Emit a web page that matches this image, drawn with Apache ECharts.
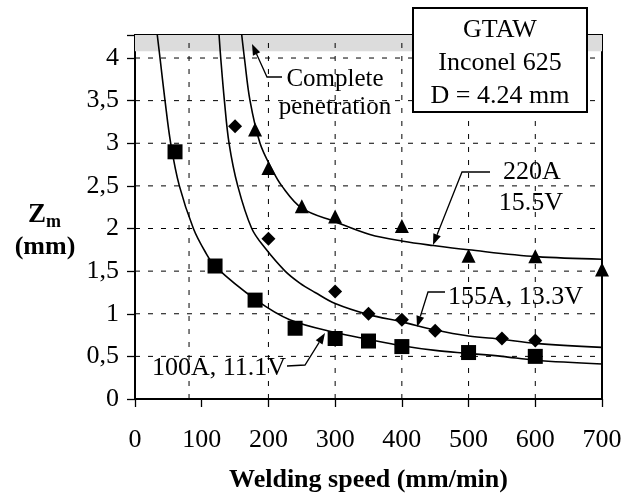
<!DOCTYPE html>
<html><head><meta charset="utf-8">
<script src="https://cdn.jsdelivr.net/npm/echarts@6/dist/echarts.min.js"></script>
<style>html,body{margin:0;padding:0;background:#fff}#c{width:631px;height:502px}</style>
</head><body><div id="c"></div>
<script>
const FONT = '"Liberation Serif", "Times New Roman", serif';
// tick / grid values
const xTicks = [0, 100, 200, 300, 400, 500, 600, 700];
const yTicks = [0, 0.5, 1, 1.5, 2, 2.5, 3, 3.5, 4];
const xGridLines = [81, 200, 300, 400, 500, 600];
const yGridLines = [0.5, 1, 1.5, 2, 2.5, 3, 3.5, 4];
const bandFrom = 4.08, yMax = 4.27, xMax = 700;
// measured points
const sq100X = [60, 120, 180, 240, 300, 350, 400, 500, 600];
const sq100Y = [2.90, 1.56, 1.16, 0.83, 0.71, 0.68, 0.615, 0.545, 0.50];
const dia155X = [150, 200, 300, 350, 400, 450, 550, 600];
const dia155Y = [3.20, 1.88, 1.26, 1.00, 0.93, 0.80, 0.71, 0.685];
const tri220X = [180, 200, 250, 300, 400, 500, 600, 700];
const tri220Y = [3.16, 2.71, 2.26, 2.14, 2.03, 1.68, 1.675, 1.52];
// fitted curves
const c100X = [33.4, 37.5, 45, 53.5, 66.5, 87.5, 105, 121, 182, 232, 300, 350, 400, 450, 500, 550, 600, 700];
const c100Y = [4.27, 4.0, 3.5, 3.0, 2.5, 2.0, 1.73, 1.55, 1.16, 0.93, 0.78, 0.70, 0.625, 0.57, 0.535, 0.50, 0.455, 0.41];
const c155X = [126, 128.5, 134, 141, 154, 175, 195, 225, 247, 270, 300, 350, 400, 450, 500, 550, 600, 700];
const c155Y = [4.27, 4.0, 3.5, 3.0, 2.5, 2.0, 1.77, 1.5, 1.36, 1.25, 1.12, 0.99, 0.905, 0.81, 0.74, 0.70, 0.653, 0.606];
const c220X = [160, 164, 172.4, 187.4, 205, 220, 250, 300, 352, 402, 447, 500, 602, 700];
const c220Y = [4.27, 4.0, 3.5, 3.0, 2.70, 2.5, 2.24, 2.08, 1.93, 1.85, 1.80, 1.75, 1.67, 1.64];

const zip = (xs, ys) => xs.map((x, i) => [x, ys[i]]);
const chart = echarts.init(document.getElementById('c'), null, {renderer: 'canvas'});

function arrow(pts, L = 11, W = 8) {
  const n = pts.length, tip = pts[n - 1], prev = pts[n - 2];
  let dx = tip[0] - prev[0], dy = tip[1] - prev[1];
  const len = Math.hypot(dx, dy); dx /= len; dy /= len;
  const bx = tip[0] - dx * L, by = tip[1] - dy * L;
  const px = -dy, py = dx;
  const line = pts.slice(0, n - 1).concat([[bx, by]]);
  return [
    {type: 'polyline', shape: {points: line}, style: {stroke: '#000', lineWidth: 1.3, fill: null}, z: 100},
    {type: 'polygon', shape: {points: [tip, [bx + px * W / 2, by + py * W / 2], [bx - px * W / 2, by - py * W / 2]]}, style: {fill: '#000'}, z: 100}
  ];
}
function txt(text, x, y, align, size, bold) {
  return {type: 'text', z: 100, style: {text, x, y, textAlign: align || 'left', textVerticalAlign: 'middle',
    font: (bold ? 'bold ' : '') + (size || 26) + 'px ' + FONT, fill: '#000'}};
}
const gridStyle = {color: '#000', width: 1, type: [5, 8]};
const gridSeries = []
  .concat(xGridLines.map(v => ({type: 'line', data: [[v, 0], [v, yMax]], showSymbol: false, silent: true, z: 2,
    lineStyle: gridStyle, animation: false})))
  .concat(yGridLines.map(v => ({type: 'line', data: [[0, v], [xMax, v]], showSymbol: false, silent: true, z: 2,
    lineStyle: gridStyle, animation: false})));

const curveStyle = {color: '#000', width: 1.6};
const markStyle = {color: '#000', opacity: 1};
const option = {
  backgroundColor: '#fff',
  animation: false,
  grid: {left: 135, right: 29, top: 35, bottom: 103, show: true, borderColor: '#000', borderWidth: 2, backgroundColor: 'transparent'},
  xAxis: {
    type: 'value', min: 0, max: xMax, interval: 100,
    axisLine: {onZero: false, lineStyle: {color: '#000', width: 2}},
    axisTick: {show: true, length: 8, inside: false, lineStyle: {color: '#000', width: 1.3}},
    axisLabel: {margin: 28, color: '#000', fontFamily: FONT, fontSize: 26},
    splitLine: {show: false},
    name: 'Welding speed (mm/min)', nameLocation: 'middle', nameGap: 68,
    nameTextStyle: {fontFamily: FONT, fontSize: 26, fontWeight: 'bold', color: '#000'}
  },
  yAxis: {
    type: 'value', min: 0, max: yMax, interval: 0.5,
    axisLine: {show: true, onZero: false, lineStyle: {color: '#000', width: 2}},
    axisTick: {show: true, length: 8, lineStyle: {color: '#000', width: 1.3}},
    axisLabel: {margin: 16, color: '#000', fontFamily: FONT, fontSize: 26,
      formatter: v => (Math.abs(v * 2 - Math.round(v * 2)) < 1e-6 ? String(v).replace('.', ',') : '')},
    splitLine: {show: false}
  },
  series: [
    {type: 'line', data: [[0, bandFrom]], showSymbol: false, z: 1, silent: true, lineStyle: {opacity: 0},
      markArea: {silent: true, itemStyle: {color: '#dcdcdc'}, data: [[{yAxis: bandFrom}, {yAxis: yMax}]]}}
  ].concat(gridSeries).concat([
    {type: 'line', data: zip(c100X, c100Y), smooth: 0.35, showSymbol: false, lineStyle: curveStyle, z: 3},
    {type: 'line', data: zip(c155X, c155Y), smooth: 0.35, showSymbol: false, lineStyle: curveStyle, z: 3},
    {type: 'line', data: zip(c220X, c220Y), smooth: 0.35, showSymbol: false, lineStyle: curveStyle, z: 3},
    {type: 'scatter', data: zip(sq100X, sq100Y), symbol: 'rect', symbolSize: 15, itemStyle: markStyle, clip: false, z: 4},
    {type: 'scatter', data: zip(dia155X, dia155Y), symbol: 'diamond', symbolSize: 14, itemStyle: markStyle, clip: false, z: 4},
    {type: 'scatter', data: zip(tri220X, tri220Y), symbol: 'triangle', symbolSize: 14, itemStyle: markStyle, clip: false, z: 4}
  ]),
  graphic: [].concat(
    [{type: 'rect', z: 90, shape: {x: 413, y: 8, width: 174, height: 104}, style: {fill: '#fff', stroke: '#000', lineWidth: 2}}],
    [txt('GTAW', 500, 30, 'center'), txt('Inconel 625', 500, 63, 'center'), txt('D = 4.24 mm', 500, 96, 'center')],
    [txt('Complete', 335, 79, 'center', 25), txt('penetration', 335, 107, 'center', 25)],
    arrow([[282, 77], [267, 77], [252, 44]]),
    [txt('220A', 532, 172, 'center'), txt('15.5V', 531, 203, 'center')],
    arrow([[490, 172], [462, 172], [433, 245]]),
    [txt('155A, 13.3V', 448, 297, 'left')],
    arrow([[445, 292], [428, 292], [417, 327]]),
    [txt('100A, 11.1V', 152, 368, 'left')],
    arrow([[287, 366], [305, 365], [325, 333]]),
    [txt('Z', 28, 215, 'left', 27, true), txt('m', 46, 222, 'left', 18, true), txt('(mm)', 45, 247, 'center', 26, true)]
  )
};
chart.setOption(option);
</script>
</body></html>
